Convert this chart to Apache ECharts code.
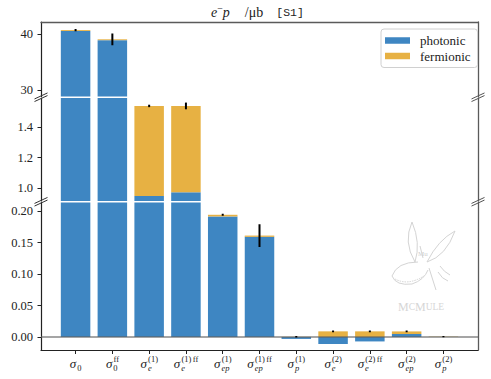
<!DOCTYPE html>
<html><head><meta charset="utf-8">
<script src="https://cdn.jsdelivr.net/npm/echarts@6/dist/echarts.min.js"></script>
<style>html,body{margin:0;padding:0;background:#fff}#c{width:491px;height:379px}</style>
</head><body><div id="c"></div>
<script>
// ---- data ----
const categories = ['σ_0','σ_0^ff','σ_e^(1)','σ_e^(1)ff','σ_ep^(1)','σ_ep^(1)ff','σ_p^(1)','σ_e^(2)','σ_e^(2)ff','σ_ep^(2)','σ_p^(2)'];
const photonic  = [40.55, 38.90, 0.948, 0.972, 0.1914, 0.159, -0.0030, -0.0111, -0.0070, 0.0048, 0.0002];
const fermionic = [0.16, 0.15, 0.590, 0.566, 0.0026, 0.0020, 0.0003, 0.0090, 0.0090, 0.0041, 0.0005];
const errors    = [0.20, 1.05, 0.008, 0.022, 0.0015, 0.018, 0.0012, 0.0015, 0.0015, 0.0015, 0.0010];
const topTicks = [30, 40];
const midTicks = [1.0, 1.2, 1.4];
const lowTicks = [0.00, 0.05, 0.10, 0.15, 0.20];
const seriesNames = ['photonic', 'fermionic'];
const titleText = '{i|e}{s|−}{i|p}{n|/μb}{t|[S1]}';

// ---- styles / layout ----
const BLUE = '#3e86c2', ORANGE = '#e7b143';
const X_MIN = -0.94, X_MAX = 10.94;
const panels = [
  {top: 22,    height: 74.5,  min: 28.84,   max: 42.14,  ticks: topTicks, fmt: v => v.toFixed(0)},
  {top: 98,    height: 103,   min: 0.915,   max: 1.590,  ticks: midTicks, fmt: v => v.toFixed(1)},
  {top: 202.5, height: 147.5, min: -0.0206, max: 0.2135, ticks: lowTicks, fmt: v => v.toFixed(2)}
];
const GL = 41, GR = 13;
const SERIF = '"Liberation Serif", "DejaVu Serif", serif';
const SCRIPT = 8.5;

const ctx = document.createElement('canvas').getContext('2d');
function tw(text, size, style) { ctx.font = (style || 'normal') + ' ' + size + 'px ' + SERIF; return ctx.measureText(text).width; }

function parseLabel(c) {
  const m = c.match(/^σ_([^\^]+)(?:\^(.*))?$/);
  return {sub: m[1], sup: m[2] || ''};
}
const parsed = categories.map(parseLabel);

// error bars sit on top of the stacked (same-sign) bar
const errCenter = photonic.map((p, k) => {
  const f = fermionic[k];
  return f >= 0 ? Math.max(p, 0) + f : Math.min(p, 0) + f;
});

const grid = [], xAxis = [], yAxis = [], series = [];
panels.forEach((pn, i) => {
  grid.push({left: GL, right: GR, top: pn.top, height: pn.height});
  xAxis.push({
    type: 'value', gridIndex: i, min: X_MIN, max: X_MAX,
    position: i === 2 ? 'bottom' : 'top',
    show: i !== 1,
    splitLine: {show: false},
    axisLine: {show: true, onZero: false, lineStyle: i === 2 ? {color: '#222', width: 1.2} : {color: '#5a5a5a', width: 1.3}},
    axisTick: i === 2 ? {show: true, length: 4, lineStyle: {color: '#222', width: 1}, customValues: categories.map((c, k) => k)} : {show: false},
    axisLabel: {show: false}
  });
});
panels.forEach((pn, i) => {
  yAxis.push({
    type: 'value', gridIndex: i, min: pn.min, max: pn.max, position: 'left',
    splitLine: {show: false},
    axisLine: {show: true, onZero: false, lineStyle: {color: '#222', width: 1.2}},
    axisTick: {show: true, length: 3.5, lineStyle: {color: '#222'}, customValues: pn.ticks},
    axisLabel: {show: true, margin: 8, color: '#222', fontFamily: SERIF, fontSize: 12.5, customValues: pn.ticks, formatter: pn.fmt}
  });
});
panels.forEach((pn, i) => {
  yAxis.push({
    type: 'value', gridIndex: i, min: 0, max: 1, position: 'right',
    splitLine: {show: false}, axisTick: {show: false}, axisLabel: {show: false},
    axisLine: {show: true, onZero: false, lineStyle: {color: '#5a5a5a', width: 1.3}}
  });
});

panels.forEach((pn, i) => {
  // data as [value, index] so the value dimension is the stacked one
  const ph = {
    type: 'bar', name: seriesNames[0], xAxisIndex: i, yAxisIndex: i, stack: 'st' + i,
    stackStrategy: 'samesign',
    barWidth: 29.5, clip: true, z: 2, silent: true,
    itemStyle: {color: BLUE},
    encode: {x: 1, y: 0},
    data: photonic.map((v, k) => [v, k])
  };
  if (i === 2) {
    ph.markLine = {silent: true, symbol: 'none', label: {show: false}, z: 6,
      lineStyle: {color: 'rgba(95,95,95,0.75)', width: 1.5, type: 'solid'},
      data: [{yAxis: 0}]};
  }
  series.push(ph);
  series.push({
    type: 'bar', name: seriesNames[1], xAxisIndex: i, yAxisIndex: i, stack: 'st' + i,
    stackStrategy: 'samesign',
    barWidth: 29.5, clip: true, z: 2, silent: true,
    itemStyle: {color: ORANGE},
    encode: {x: 1, y: 0},
    data: fermionic.map((v, k) => [v, k])
  });
  series.push({
    type: 'custom', xAxisIndex: i, yAxisIndex: i, clip: true, z: 7, silent: true,
    encode: {x: 0, y: 1},
    data: errCenter.map((c, k) => [k, c, errors[k]]),
    renderItem: (params, api) => {
      const x = api.value(0), c = api.value(1), e = api.value(2);
      const a = api.coord([x, c + e]), b = api.coord([x, c - e]);
      return {type: 'line', shape: {x1: a[0], y1: a[1], x2: b[0], y2: b[1]},
        style: {stroke: '#000', lineWidth: 2}};
    }
  });
});

// x tick labels (σ with sub/superscripts)
series.push({
  type: 'custom', xAxisIndex: 2, yAxisIndex: 2, clip: false, silent: true, z: 8,
  encode: {x: 0, y: 1},
  data: categories.map((c, k) => [k, panels[2].min]),
  renderItem: (params, api) => {
    const k = api.value(0);
    const p = api.coord([k, api.value(1)]);
    const lab = parsed[k];
    const subItalic = /[a-z]/.test(lab.sub);
    const sigW = tw('σ', 13, 'italic');
    const subW = tw(lab.sub, SCRIPT, subItalic ? 'italic' : 'normal');
    let supParts = [];
    if (lab.sup) {
      const m = lab.sup.match(/^(\(\d\))?(ff)?$/);
      if (m[1]) supParts.push(m[1]);
      if (m[2]) supParts.push(m[2]);
    }
    let supW = 0;
    supParts.forEach((s, j) => { supW += tw(s, SCRIPT, 'normal') + (j > 0 ? 1.5 : 0); });
    const total = sigW + 1 + Math.max(subW, supW);
    const x0 = p[0] - total / 2;
    const y0 = p[1];
    const children = [
      {type: 'text', style: {text: 'σ', x: x0, y: y0 + 13, fontSize: 13, fontStyle: 'italic', fontFamily: SERIF, fill: '#222', align: 'left', verticalAlign: 'middle', lineHeight: 9}},
      {type: 'text', style: {text: lab.sub, x: x0 + sigW + 1, y: y0 + 17.9, fontSize: SCRIPT, fontStyle: subItalic ? 'italic' : 'normal', fontFamily: SERIF, fill: '#222', align: 'left', verticalAlign: 'middle', lineHeight: 7}}
    ];
    let sx = x0 + sigW + 1.2;
    supParts.forEach((s, j) => {
      if (j > 0) sx += 1.5;
      children.push({type: 'text', style: {text: s, x: sx, y: y0 + 9.4, fontSize: SCRIPT, fontFamily: SERIF, fill: '#222', align: 'left', verticalAlign: 'middle', lineHeight: 7}});
      sx += tw(s, SCRIPT, 'normal');
    });
    return {type: 'group', children};
  }
});

// break marks
function breakMark(x, y, color) {
  return [-1.3, 1.3].map(d => ({type: 'line', z: 100,
    shape: {x1: x - 6.5, y1: y + d + 3, x2: x + 6.5, y2: y + d - 3},
    style: {stroke: color, lineWidth: 1}}));
}
const rightX = 491 - GR;
const b1 = panels[0].top + panels[0].height + 0.75;
const b2 = panels[1].top + panels[1].height + 0.75;
const graphics = [].concat(
  breakMark(GL, b1, '#333'), breakMark(GL, b2, '#333'),
  breakMark(rightX, b1, '#555'), breakMark(rightX, b2, '#555')
);
// watermark logo (approximate sketch)
const LOGO = '#d4d4d4';
function qc(x1, y1, cx, cy, x2, y2, dash) {
  return {type: 'bezierCurve', z: 1, silent: true,
    shape: {x1, y1, cpx1: cx, cpy1: cy, x2, y2},
    style: {fill: null, stroke: LOGO, lineWidth: 1, lineDash: dash || null}};
}
function ln(x1, y1, x2, y2) {
  return {type: 'line', z: 1, silent: true, shape: {x1, y1, x2, y2}, style: {stroke: LOGO, lineWidth: 1}};
}
graphics.push(
  qc(412, 222, 403, 242, 415, 262), qc(415, 262, 421, 243, 412, 222),
  qc(455, 231, 438, 240, 427, 262), qc(427, 262, 446, 256, 455, 231),
  qc(418, 262, 397, 262, 392, 276), qc(392, 276, 396, 286, 412, 284), qc(412, 284, 424, 280, 428, 270),
  qc(395, 279, 408, 286, 424, 276, [1.5, 1]),
  ln(420, 246, 423, 258), ln(429, 268, 436, 290),
  qc(440, 266, 444, 272, 450, 275), qc(438, 272, 442, 279, 448, 281),
  {type: 'text', z: 1, silent: true, x: 418, y: 250, style: {text: 'Mu', fontSize: 7, fontFamily: SERIF, fill: '#cfcfcf'}},
  {type: 'text', z: 1, silent: true, x: 398, y: 301, style: {text: '{b|M}{s|C}{b|M}{s|ULE}', fill: '#d6d6d6', rich: {b: {fontSize: 12, fontFamily: SERIF, fill: '#d6d6d6'}, s: {fontSize: 9.5, fontFamily: SERIF, fill: '#d6d6d6'}}}}
);

const option = {
  animation: false,
  backgroundColor: '#fff',
  title: {
    text: titleText, left: 211, top: 3, padding: 0,
    textStyle: {fontWeight: 'normal', rich: {
      i: {fontSize: 14, fontStyle: 'italic', fontWeight: 'normal', fontFamily: SERIF, color: '#222', lineHeight: 18},
      s: {fontSize: 10, fontWeight: 'normal', fontFamily: SERIF, color: '#222', lineHeight: 10, verticalAlign: 'top'},
      n: {fontSize: 14, fontWeight: 'normal', fontFamily: SERIF, color: '#222', lineHeight: 18, padding: [0, 0, 0, 15]},
      t: {fontSize: 11.5, fontWeight: 'normal', fontFamily: '"Liberation Mono", "DejaVu Sans Mono", monospace', color: '#222', lineHeight: 18, padding: [0, 0, 0, 13]}
    }}
  },
  legend: {
    data: seriesNames, orient: 'vertical', left: 381, top: 29,
    itemWidth: 25, itemHeight: 6.5, itemGap: 2.5, icon: 'rect',
    padding: [5, 7, 5, 4], borderColor: '#d0d0d0', borderWidth: 1, borderRadius: 3,
    backgroundColor: 'rgba(255,255,255,0.85)', selectedMode: false,
    textStyle: {fontFamily: SERIF, fontSize: 13, color: '#222', lineHeight: 13, padding: [0, 0, 0, 5]}
  },
  grid, xAxis, yAxis, series,
  graphic: graphics
};

const chart = echarts.init(document.getElementById('c'), null, {renderer: 'svg'});
chart.setOption(option);
</script>
</body></html>
